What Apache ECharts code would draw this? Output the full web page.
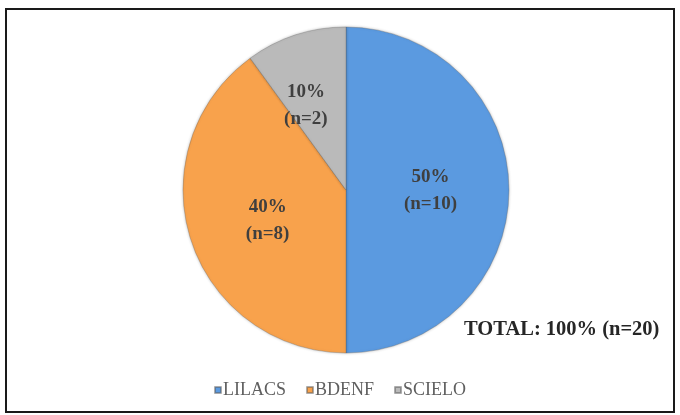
<!DOCTYPE html>
<html>
<head>
<meta charset="utf-8">
<script src="https://cdn.jsdelivr.net/npm/echarts@6/dist/echarts.min.js"></script>
<style>
  html, body { margin: 0; padding: 0; background: #fff; }
  #chart { width: 680px; height: 415px; }
</style>
</head>
<body>
<div id="chart"></div>
<script>
const categories = ['LILACS', 'BDENF', 'SCIELO']
const counts = [10, 8, 2]
const percents = [50, 40, 10]
const colors = ['#5b9ae0', '#f8a24c', '#bababa']
const totalLabel = 'TOTAL: 100% (n=20)'

// Excel places the small slice label a bit off the mid radius
const labelOffsets = [[0, 1], [2, 4], [-14, -4]]

const chart = echarts.init(document.getElementById('chart'))

const serif = '"Liberation Serif", "DejaVu Serif", serif'

chart.setOption({
  backgroundColor: '#fff',
  animation: false,
  legend: {
    top: 376,
    left: 'center',
    itemWidth: 6,
    itemHeight: 6,
    itemGap: 20,
    icon: 'rect',
    textStyle: { color: '#5f5f5f', fontSize: 18, fontFamily: serif, padding: [0, 0, 0, -3] },
    data: categories,
  },
  graphic: [
    {
      type: 'rect',
      shape: { x: 6, y: 9, width: 668, height: 403 },
      style: { fill: 'none', stroke: '#1a1a1a', lineWidth: 2 },
      silent: true,
    },
    {
      type: 'text',
      left: 464,
      top: 319,
      style: {
        text: totalLabel,
        fill: '#262626',
        font: 'bold 20.5px ' + serif,
      },
    },
  ],
  series: [
    {
      type: 'pie',
      center: [346, 190],
      radius: [0, 163],
      startAngle: 90,
      clockwise: true,
      itemStyle: {
        borderColor: 'rgba(90,90,90,0.5)',
        borderWidth: 0.6,
        shadowBlur: 3,
        shadowColor: 'rgba(0,0,0,0.25)',
      },
      label: {
        position: 'inside',
        color: '#3f3f3f',
        fontFamily: serif,
        fontWeight: 'bold',
        fontSize: 19,
        lineHeight: 27,
        formatter: (p) => percents[p.dataIndex] + '%\n(n=' + p.value + ')',
      },
      labelLine: { show: false },
      emphasis: { disabled: true },
      data: categories.map((name, i) => ({
        name,
        value: counts[i],
        itemStyle: { color: colors[i] },
        label: { offset: labelOffsets[i] },
      })),
    },
  ],
})
</script>
</body>
</html>
